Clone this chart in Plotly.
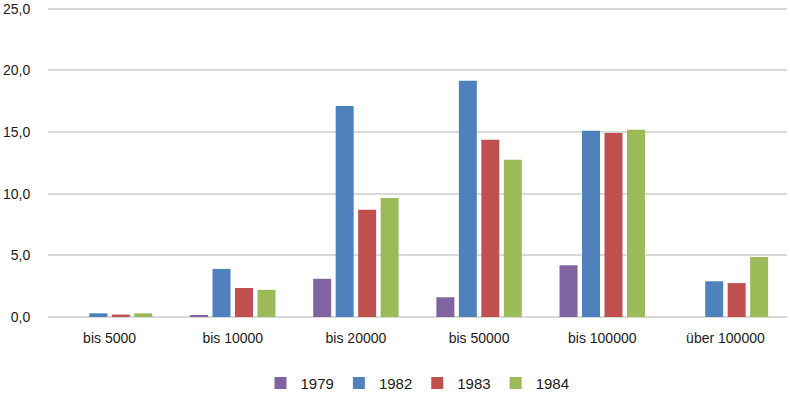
import plotly.graph_objects as go

categories = ["bis 5000", "bis 10000", "bis 20000", "bis 50000", "bis 100000", "über 100000"]
years = ["1979", "1982", "1983", "1984"]
v1979 = [0.0, 0.1, 3.1, 1.6, 4.2, 0.0]
v1982 = [0.3, 3.9, 17.1, 19.15, 15.1, 2.9]
v1983 = [0.2, 2.35, 8.7, 14.37, 14.93, 2.75]
v1984 = [0.3, 2.2, 9.65, 12.75, 15.18, 4.87]
colors = ["#8064A2", "#4F81BD", "#C0504D", "#9BBB59"]
yticks = [0, 5, 10, 15, 20, 25]

fig = go.Figure()
for name, vals, c in zip(years, [v1979, v1982, v1983, v1984], colors):
    fig.add_trace(go.Bar(x=categories, y=vals, name=name, marker_color=c,
                         marker_line_width=0))

fig.update_layout(
    width=790, height=401,
    margin=dict(l=48, r=3, t=5, b=84, autoexpand=False),
    paper_bgcolor="white", plot_bgcolor="white",
    separators=",.",
    barmode="group", bargap=0.27, bargroupgap=0.2,
    font=dict(family="Liberation Sans, Arial, sans-serif", size=14, color="#1a1a1a"),
    showlegend=True,
    legend=dict(orientation="h", x=0.5, xanchor="center", y=-0.212, yanchor="middle",
                font=dict(size=15), itemwidth=30, traceorder="normal"),
    yaxis=dict(range=[0, 25.3], tickvals=yticks, tickformat=".1f", automargin=False,
               showgrid=True, gridcolor="#D9D9D9", gridwidth=2,
               zeroline=True, zerolinecolor="#D9D9D9", zerolinewidth=2,
               ticks="outside", ticklen=14, tickcolor="white",
               tickfont=dict(size=14)),
    xaxis=dict(showgrid=False, ticks="outside", ticklen=8, tickcolor="white", automargin=False,
               tickfont=dict(size=14)),
)
fig.write_html("out.html", post_script="document.body.style.margin='0';",
               config={"displayModeBar": False})
